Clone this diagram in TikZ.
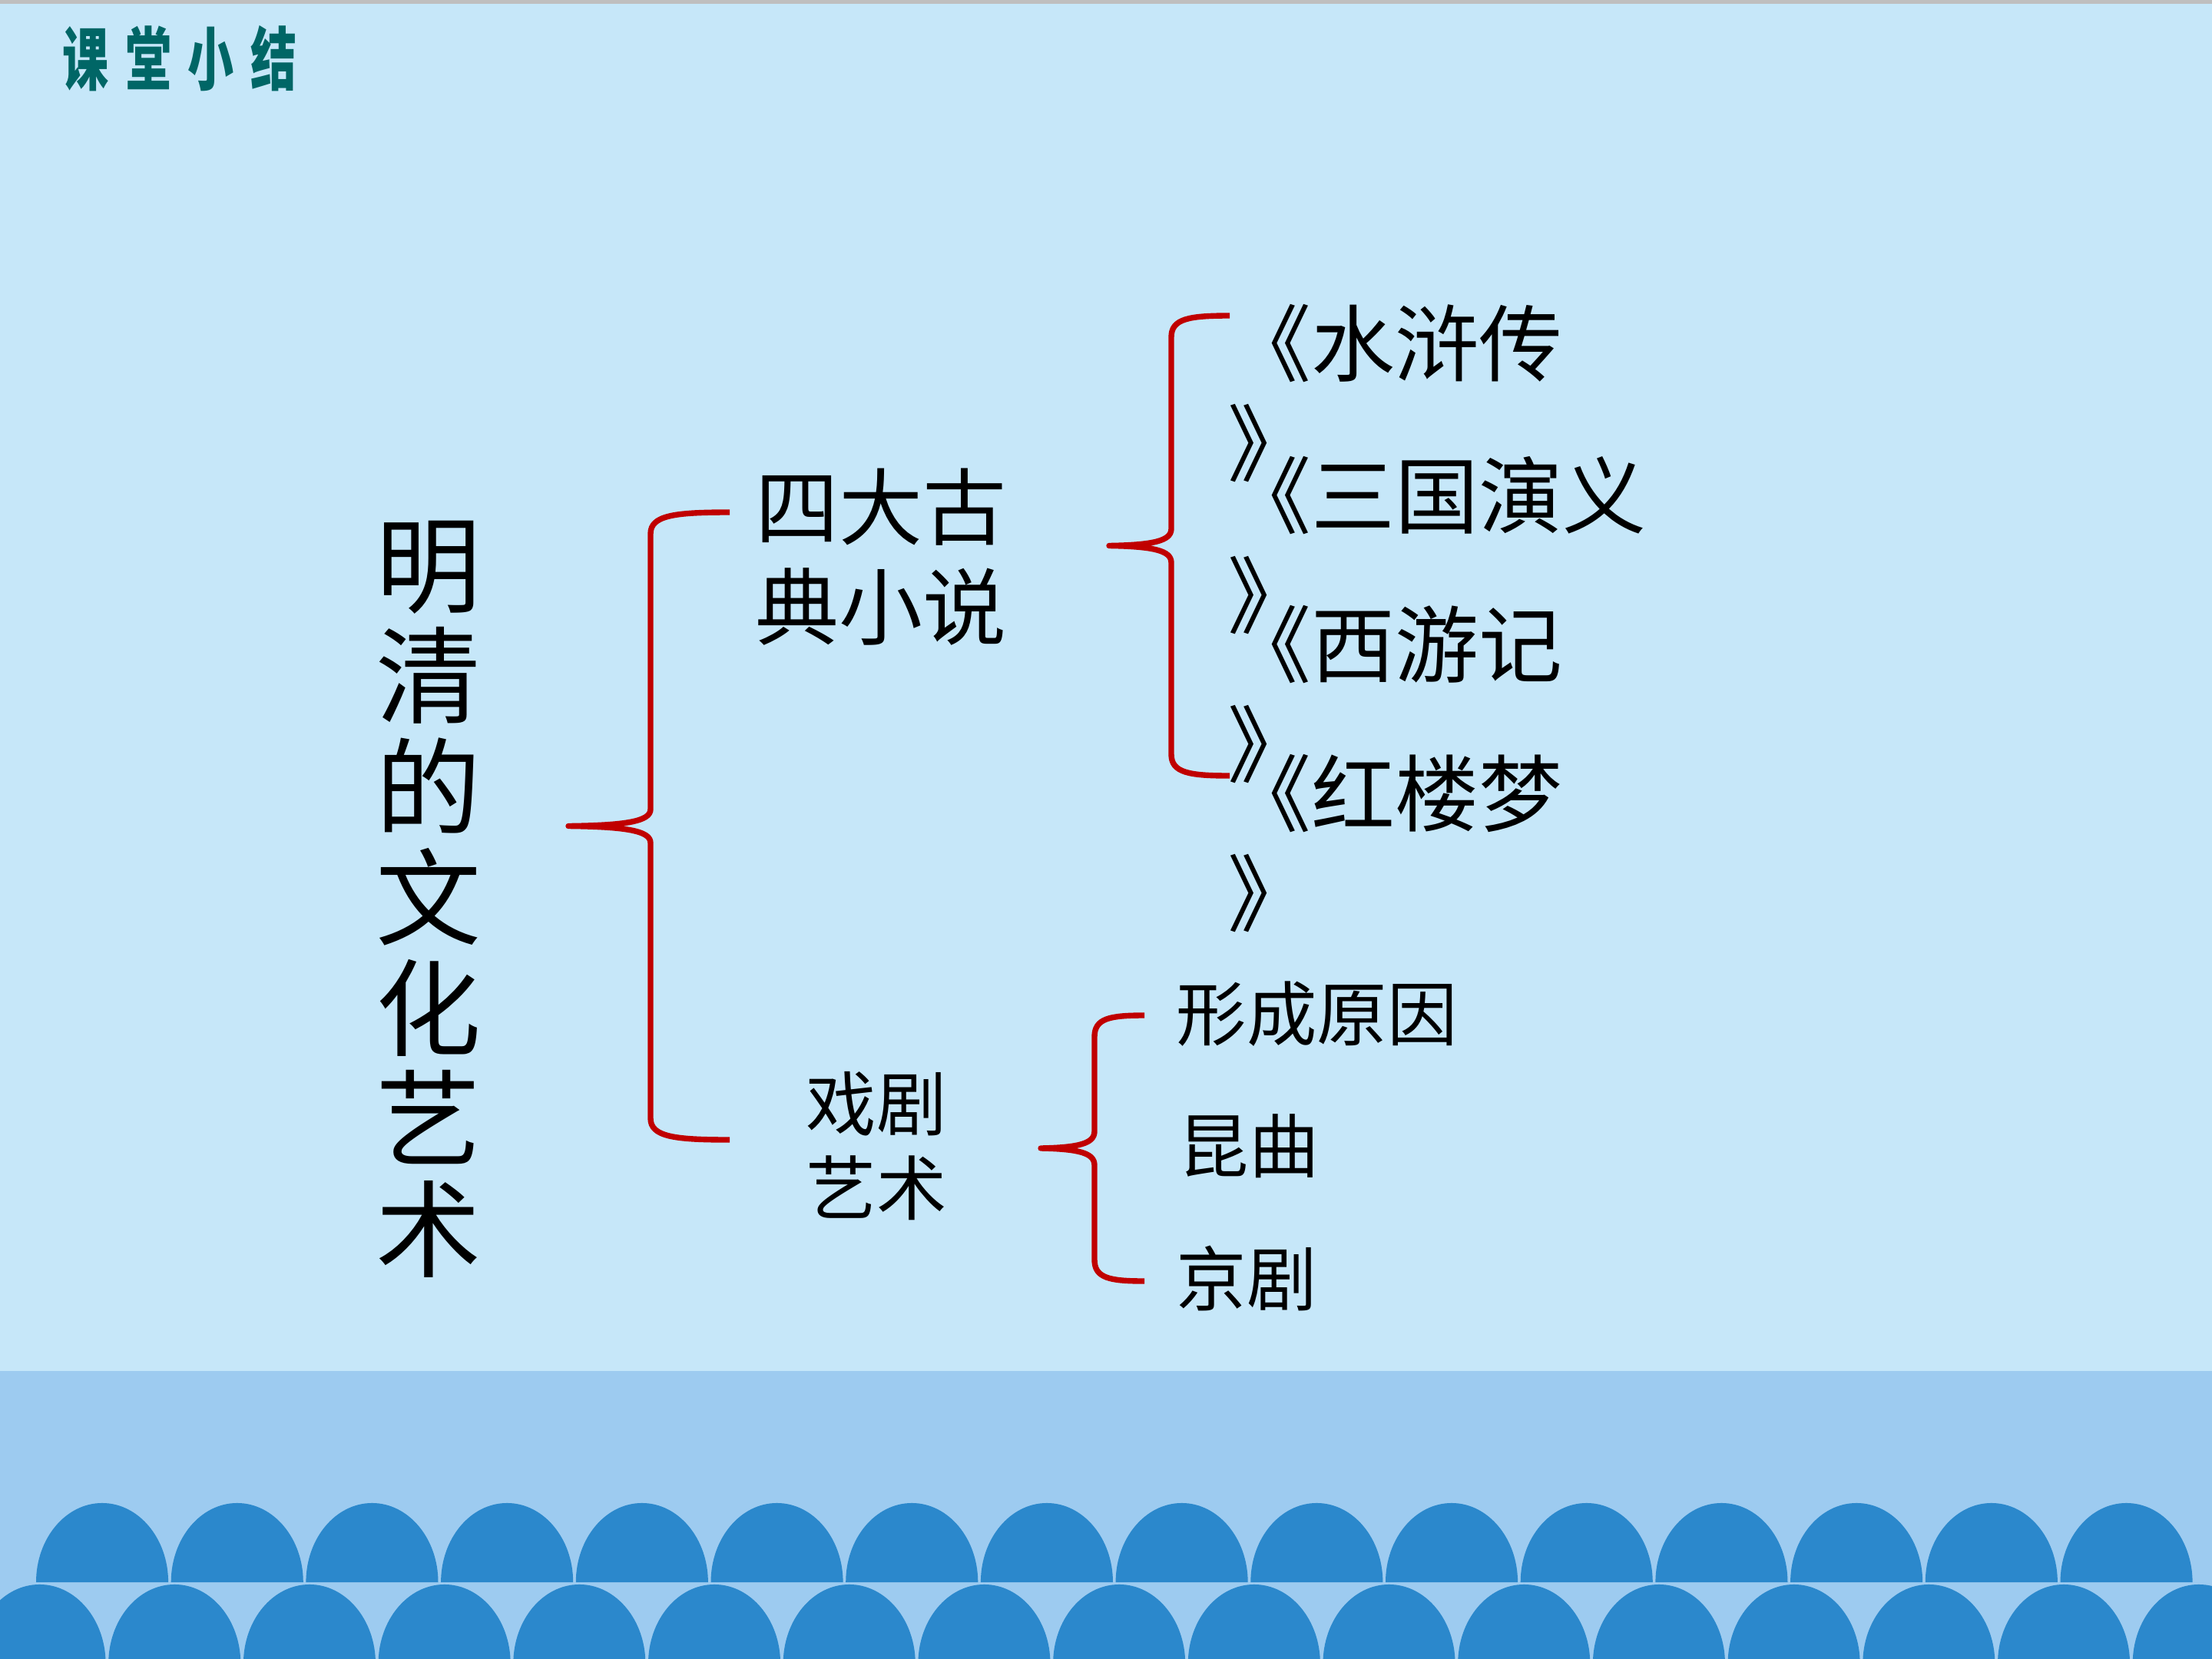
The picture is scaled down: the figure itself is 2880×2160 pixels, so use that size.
\documentclass[tikz,border=0pt]{standalone}
\usepackage{fontspec}
\setmainfont{Noto Sans CJK SC}
\definecolor{skyBack}{HTML}{C6E7F9}
\definecolor{seaBand}{HTML}{9DCBF0}
\definecolor{seaWave}{HTML}{2B88CC}
\definecolor{braceRed}{HTML}{C00000}
\definecolor{titleTeal}{HTML}{006666}
\definecolor{topGray}{HTML}{BFBFBF}
\tikzset{
  brace/.style={braceRed, line width=2.1pt, line join=round},
  wave/.style={seaWave},
  big/.style={font=\fontsize{39}{41}\selectfont, inner sep=0pt, align=center},
  mid/.style={font=\fontsize{31}{37}\selectfont, inner sep=0pt, align=left, anchor=west},
  sm/.style={font=\fontsize{26}{31.3}\selectfont, inner sep=0pt, align=left, anchor=west},
  ttl/.style={font=\fontsize{25.5}{28}\selectfont\bfseries, titleTeal, inner sep=0pt, anchor=west},
}
\newcommand{\redbrace}[5]{%
  \draw[brace] (#5,#2) .. controls ({#1+0.3*(#5-#1)},#2) and (#1,{#2+4}) .. (#1,{#2+28})
    -- (#1,{(#2+#3)/2-22}) .. controls (#1,{(#2+#3)/2-6}) and ({#1-0.3*(#1-#4)},{(#2+#3)/2-1}) .. (#4,{(#2+#3)/2})
    .. controls ({#1-0.3*(#1-#4)},{(#2+#3)/2+1}) and (#1,{(#2+#3)/2+6}) .. (#1,{(#2+#3)/2+22})
    -- (#1,{#3-28}) .. controls (#1,{#3-4}) and ({#1+0.3*(#5-#1)},#3) .. (#5,#3);}

\begin{document}
\begin{tikzpicture}[x=0.01cm, y=-0.01cm]
  \fill[skyBack] (0,0) rectangle (2880,2160);
  \useasboundingbox (0,0) rectangle (2880,2160);
  \clip (0,0) rectangle (2880,2160);
  \fill[topGray] (0,0) rectangle (2880,5);
  \fill[seaBand] (0,1785) rectangle (2880,2160);
  \foreach \k in {0,...,15}
    \fill[wave] ({47+175.7*\k},2060) arc[start angle=180, end angle=0, x radius=0.86cm, y radius=1.03cm] -- cycle;
  \foreach \k in {0,...,16}
    \fill[wave] ({-34.5+175.7*\k},2166) arc[start angle=180, end angle=0, x radius=0.86cm, y radius=1.03cm] -- cycle;

  \node[ttl] (lesson) at (81,76) {\scalebox{0.67}[1]{课\kern0.32cm 堂\kern0.32cm 小\kern0.32cm 结}};

  \node[big] (topic) at (558,1171) {明\\清\\的\\文\\化\\艺\\术};
  \node[mid] (novel) at (983,725) {四大古\\典小说};
  \node[sm] (drama) at (1049,1492) {戏剧\\艺术};

  \node[mid] (shz) at (1598,512) {《水浒传\\》};
  \node[mid] (sgy) at (1598,710) {《三国演义\\》};
  \node[mid] (xyj) at (1598,904) {《西游记\\》};
  \node[mid] (hlm) at (1598,1098) {《红楼梦\\》};

  \node[sm] (cause) at (1531,1320) {形成原因};
  \node[sm] (kunqu) at (1534,1492) {昆曲};
  \node[sm] (jingju) at (1531,1664) {京剧};

  \redbrace{847}{667}{1484}{740}{950}
  \redbrace{1525}{411}{1010}{1444}{1601}
  \redbrace{1425}{1322}{1668}{1355}{1490}
\end{tikzpicture}
\end{document}
